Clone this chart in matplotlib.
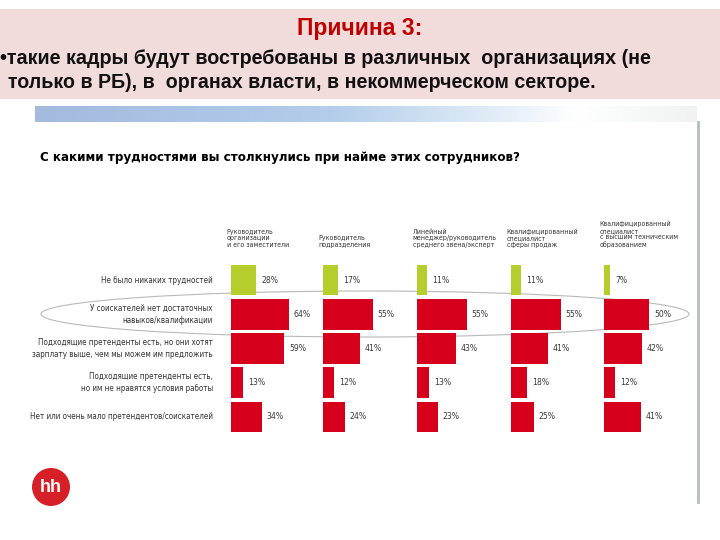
import matplotlib
matplotlib.use('Agg')
import matplotlib.pyplot as plt
import matplotlib.patches as mpatches
import matplotlib.transforms as mtrans
from matplotlib.lines import Line2D
from matplotlib.colors import LinearSegmentedColormap
import numpy as np

# ---------------- data ----------------
reason_title = "Причина 3:"
reason_line1 = "•такие кадры будут востребованы в различных  организациях (не"
reason_line2 = "только в РБ), в  органах власти, в некоммерческом секторе."
question = "С какими трудностями вы столкнулись при найме этих сотрудников?"

positions = [
    "Руководитель\nорганизации\nи его заместители",
    "Руководитель\nподразделения",
    "Линейный\nменеджер/руководитель\nсреднего звена/эксперт",
    "Квалифицированный\nспециалист\nсферы продаж",
    "Квалифицированный\nспециалист\nс высшим техническим\nобразованием",
]
difficulties = [
    "Не было никаких трудностей",
    "У соискателей нет достаточных\nнавыков/квалификации",
    "Подходящие претенденты есть, но они хотят\nзарплату выше, чем мы можем им предложить",
    "Подходящие претенденты есть,\nно им не нравятся условия работы",
    "Нет или очень мало претендентов/соискателей",
]
no_difficulty = [28, 17, 11, 11, 7]
lack_skills = [64, 55, 55, 55, 50]
high_salary = [59, 41, 43, 41, 42]
bad_conditions = [13, 12, 13, 18, 12]
few_candidates = [34, 24, 23, 25, 41]
series = [no_difficulty, lack_skills, high_salary, bad_conditions, few_candidates]

logo_text = "hh"

# ---------------- style ----------------
GREEN = '#b7cd2c'
RED = '#d6001c'
SANS = ['Liberation Sans', 'DejaVu Sans']
COND = dict(family=['DejaVu Sans'], fontstretch='condensed')

W, H = 720, 540
fig = plt.figure(figsize=(7.2, 5.4), dpi=100)
fig.patch.set_facecolor('white')


def fx(px):
    return px / W


def fy(py):
    return 1 - py / H


renderer = fig.canvas.get_renderer()


def fit(t, target_px):
    w = t.get_window_extent(renderer=renderer).width
    t.set_fontsize(t.get_fontsize() * target_px / w)
    return t.get_fontsize()


# pink header box
fig.add_artist(mpatches.Rectangle((0, fy(99)), 1, 90 / H, transform=fig.transFigure,
                                  fc='#f2dcdb', ec='none', zorder=-3))
t = fig.text(fx(360), fy(28), reason_title, ha='center', va='center', color='#c00000',
             fontweight='bold', family=SANS, fontsize=15)
fit(t, 126)
t = fig.text(fx(0), fy(58), reason_line1, ha='left', va='center', color='#111111',
             fontweight='bold', family=SANS, fontsize=13)
fit(t, 650)
t = fig.text(fx(8), fy(82), reason_line2, ha='left', va='center', color='#111111',
             fontweight='bold', family=SANS, fontsize=13)
fit(t, 584)

# gradient band
axg = fig.add_axes([fx(35), fy(122), 662 / W, 16 / H])
cmap = LinearSegmentedColormap.from_list('band', [(0, '#a4badf'), (0.45, '#b3cdea'),
                                                  (0.72, '#e6f0f9'), (0.82, '#ffffff'),
                                                  (1, '#f0f3f2')])
grad = np.linspace(0, 1, 256)[None, :]
axg.imshow(grad, aspect='auto', cmap=cmap, extent=[0, 1, 0, 1])
axg.axis('off')

# right grey vertical line
fig.add_artist(Line2D([fx(698), fx(698)], [fy(122), fy(502)], transform=fig.transFigure,
                      color='#b2beba', lw=2, zorder=-2))

# question
t = fig.text(fx(40), fy(158), question, ha='left', va='center', color='black',
             fontweight='heavy', fontsize=11, **COND)
fit(t, 478)

# ellipse highlight
fig.add_artist(mpatches.Ellipse((fx(365), fy(314)), 648 / W, 46 / H, transform=fig.transFigure,
                                fill=False, ec='#b9b9b9', lw=0.8, zorder=-1))

# bar columns
col_left = [231, 323, 417, 511, 604]
axes = []
headers = []
for i, left in enumerate(col_left):
    ax = fig.add_axes([fx(left), fy(434), 90 / W, 171 / H])
    ax.set_facecolor('none')
    vals = [s[i] for s in series]
    colors = [GREEN] + [RED] * 4
    ax.barh(range(len(vals)), vals, height=0.9, color=colors, edgecolor='none')
    ax.set_xlim(0, 100)
    ax.set_ylim(len(vals) - 0.5, -0.5)
    ax.axis('off')
    for y, v in enumerate(vals):
        ax.text(v + 5.5, y, f"{v}%", ha='left', va='center', color='#3a3a3a',
                fontsize=6.2, **COND)
    h = ax.annotate(positions[i], xy=(0, 1), xycoords='axes fraction', xytext=(-3, 11),
                    textcoords='offset points', ha='left', va='bottom', color='#333333',
                    fontsize=5, linespacing=1.12, **COND)
    headers.append(h)
    axes.append(ax)

# header font size fitted on a reference line
probe = fig.text(0, 0, positions[2].split('\n')[1], fontsize=5, **COND)
head_size = fit(probe, 84)
probe.remove()
for h in headers:
    h.set_fontsize(head_size)

# row labels
trans = mtrans.blended_transform_factory(fig.transFigure, axes[0].transData)
row_size = None
for y, lab in enumerate(difficulties):
    tt = axes[0].text(fx(213), y, lab, transform=trans, ha='right', va='center',
                      color='#333333', fontsize=6.5, linespacing=1.4, **COND)
    if row_size is None:
        row_size = fit(tt, 113)
    else:
        tt.set_fontsize(row_size)

# logo
fig.add_artist(mpatches.Ellipse((fx(51), fy(487)), 38 / W, 38 / H, transform=fig.transFigure,
                                fc='#d61f26', ec='none'))
fig.text(fx(51), fy(488), logo_text, ha='center', va='center', color='white',
         fontweight='bold', family=SANS, fontsize=13)

fig.savefig('out.png', dpi=100, facecolor='white')
